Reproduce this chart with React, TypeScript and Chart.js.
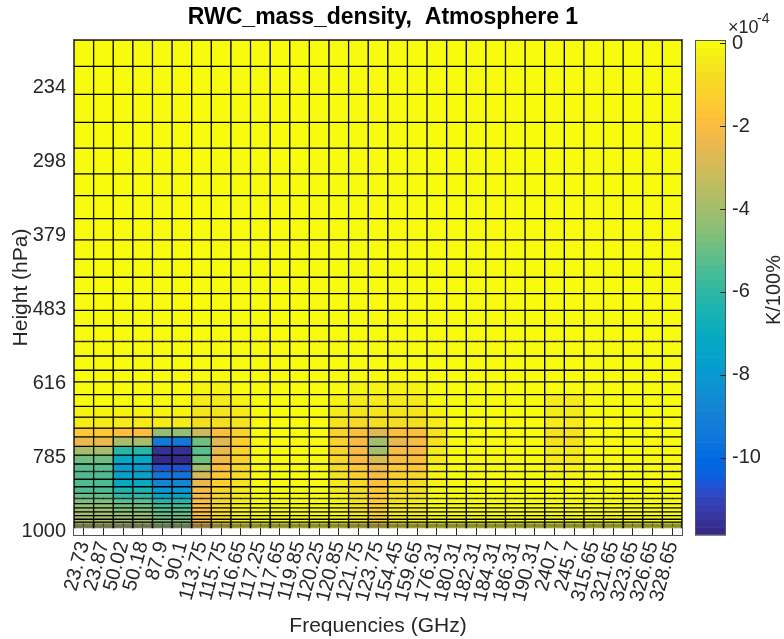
import { useEffect, useRef } from "react";
import { Chart, registerables } from "chart.js";

Chart.register(...registerables);

// ---------- data ----------
const frequencies = [
  "23.73", "23.87", "50.02", "50.18", "87.9", "90.1", "113.75", "115.75",
  "116.65", "117.25", "117.65", "119.85", "120.25", "120.85", "121.75",
  "123.75", "154.45", "159.65", "176.31", "180.31", "182.31", "184.31",
  "186.31", "190.31", "240.7", "245.7", "315.65", "321.65", "323.65",
  "326.65", "328.65",
];

// pressure level edges (hPa), top to bottom
const pressureLevels = [
  200, 218, 239, 262, 285, 310, 333, 359, 385, 410, 435, 459, 485, 510, 537,
  563, 590, 613, 639, 664, 688, 713, 734, 757, 779, 802, 822, 843, 864, 883,
  898, 913, 926, 938, 950, 961, 970, 977, 981, 984, 986, 988, 990,
];

const pressureTicks = [234, 298, 379, 483, 616, 785, 1000];
const pressureMin = 200;
const pressureMax = 1012;
const colorbarTicks = [-10, -8, -6, -4, -2, 0];
const colorMin = -11.87; // x 1e-4 K/100%
const colorMax = 0.08;

// values in units of 1e-4 K/100%, one row per layer (top to bottom), one entry per frequency
const Z0 = [0,0,0,0,0,0,0,0,0,0,0,0,0,0,0,0,0,0,0,0,0,0,0,0,0,0,0,0,0,0,0];
const sensitivity: number[][] = [
  Z0, Z0, Z0, Z0, Z0, Z0, Z0, Z0, Z0, Z0, Z0, Z0, Z0, Z0, Z0, Z0, Z0,
  [0,0,0,0,0,0,-0.2,-0.2,0,0,0,0,0,0,-0.2,-0.2,-0.2,-0.2, 0,0,0,0,0,0,0,0,0,0,0,0,0],
  [0,0,0,0,0,0,-0.3,-0.3,-0.2,0,0,0,0,-0.2,-0.3,-0.3,-0.3,-0.3, 0,0,0,0,0,0,-0.3,-0.3,0,0,0,0,0],
  [-0.2,-0.2,-0.2,-0.2,-0.2,-0.2,-0.5,-0.5,-0.4,0,0,0,0,-0.4,-0.6,-0.6,-0.6,-0.6, -0.2,0,0,0,0,0,-0.4,-0.4,0,0,0,0,0],
  [-0.3,-0.3,-0.3,-0.3,-0.3,-0.3,-0.7,-0.8,-0.5,0,0,0,0,-0.6,-0.9,-0.8,-0.8,-0.7, -0.3,0,0,0,0,0,-0.4,-0.4,0,0,0,0,0],
  [-1.5,-1.5,-1.9,-1.9,-4.4,-4.4,-3.1,-1.9,-1.05,0,0,0,0,-1.1,-1.8,-2.65,-1.9,-1.8, -0.5,0,0,0,0,0,-0.5,-0.5,0,0,0,0,0],
  [-2.45,-2.45,-3.9,-3.9,-9.4,-9.4,-4.95,-2.6,-1.25,0,0,0,0,-1.1,-2.0,-3.85,-2.4,-2.0, -0.5,0,0,0,0,0,-0.5,-0.5,0,0,0,0,0],
  [-3.9,-3.9,-6.1,-6.1,-11.5,-11.5,-5.2,-2.45,-1.1,0,0,0,0,-1.05,-2.0,-3.9,-2.0,-2.0, -0.45,0,0,0,0,0,-0.45,-0.45,0,0,0,0,0],
  [-4.95,-4.95,-7.3,-7.3,-11.85,-11.85,-4.95,-2.2,-1.1,0,0,0,0,-0.95,-2.0,-2.8,-2.0,-1.9, -0.35,0,0,0,0,0,-0.35,-0.35,0,0,0,0,0],
  [-5.2,-5.2,-7.9,-7.9,-10.7,-10.7,-3.85,-1.9,-0.9,0,0,0,0,-0.7,-1.6,-2.2,-1.55,-1.45, -0.25,0,0,0,0,0,-0.25,-0.25,0,0,0,0,0],
  [-5.4,-5.4,-7.7,-7.7,-9.6,-9.6,-2.85,-1.5,-0.7,0,0,0,0,-0.5,-1.25,-2.0,-1.25,-1.0, -0.2,0,0,0,0,0,-0.2,-0.2,0,0,0,0,0],
  [-5.5,-5.5,-7.1,-7.1,-8.8,-8.8,-2.4,-1.25,-0.5,0,0,0,0,-0.4,-1.0,-1.8,-1.0,-0.8, -0.15,0,0,0,0,0,0,0,0,0,0,0,0],
  [-5.4,-5.4,-6.4,-6.4,-8.1,-8.1,-2.1,-1.0,-0.4,0,0,0,0,-0.3,-0.8,-1.6,-0.8,-0.6, -0.1,0,0,0,0,0,0,0,0,0,0,0,0],
  [-5.1,-5.1,-5.9,-5.9,-7.3,-7.3,-2.0,-0.95,-0.3,0,0,0,0,-0.2,-0.7,-1.45,-0.6,-0.5, 0,0,0,0,0,0,0,0,0,0,0,0,0],
  [-4.75,-4.75,-5.3,-5.3,-6.2,-6.2,-1.95,-0.9,-0.3,0,0,0,0,-0.2,-0.6,-1.35,-0.5,-0.4, 0,0,0,0,0,0,0,0,0,0,0,0,0],
  [-4.4,-4.4,-4.9,-4.9,-5.6,-5.6,-1.9,-0.9,-0.25,0,0,0,0,-0.15,-0.5,-1.25,-0.45,-0.35, 0,0,0,0,0,0,0,0,0,0,0,0,0],
  [-4.2,-4.2,-4.6,-4.6,-5.3,-5.3,-1.9,-0.85,-0.25,0,0,0,0,-0.15,-0.5,-1.2,-0.4,-0.3, 0,0,0,0,0,0,0,0,0,0,0,0,0],
  [-4.0,-4.0,-4.4,-4.4,-5.0,-5.0,-1.85,-0.85,-0.2,0,0,0,0,-0.1,-0.45,-1.15,-0.4,-0.3, 0,0,0,0,0,0,0,0,0,0,0,0,0],
  [-3.9,-3.9,-4.2,-4.2,-4.8,-4.8,-1.85,-0.8,-0.2,0,0,0,0,-0.1,-0.4,-1.1,-0.35,-0.3, 0,0,0,0,0,0,0,0,0,0,0,0,0],
  [-3.8,-3.8,-4.1,-4.1,-4.6,-4.6,-1.8,-0.8,-0.2,0,0,0,0,-0.1,-0.4,-1.05,-0.35,-0.25, 0,0,0,0,0,0,0,0,0,0,0,0,0],
  [-3.7,-3.7,-4.0,-4.0,-4.5,-4.5,-1.8,-0.8,-0.2,0,0,0,0,-0.1,-0.35,-1.0,-0.3,-0.25, 0,0,0,0,0,0,0,0,0,0,0,0,0],
  [-3.6,-3.6,-3.9,-3.9,-4.4,-4.4,-1.8,-0.75,-0.2,0,0,0,0,-0.1,-0.35,-1.0,-0.3,-0.25, 0,0,0,0,0,0,0,0,0,0,0,0,0],
  [-3.6,-3.6,-3.8,-3.8,-4.3,-4.3,-1.75,-0.75,-0.15,0,0,0,0,-0.1,-0.3,-0.95,-0.3,-0.2, 0,0,0,0,0,0,0,0,0,0,0,0,0],
  [-3.5,-3.5,-3.8,-3.8,-4.2,-4.2,-1.75,-0.75,-0.15,0,0,0,0,-0.1,-0.3,-0.95,-0.3,-0.2, 0,0,0,0,0,0,0,0,0,0,0,0,0],
  [-3.5,-3.5,-3.7,-3.7,-4.2,-4.2,-1.75,-0.7,-0.15,0,0,0,0,-0.1,-0.3,-0.9,-0.25,-0.2, 0,0,0,0,0,0,0,0,0,0,0,0,0],
  [-3.5,-3.5,-3.7,-3.7,-4.1,-4.1,-1.75,-0.7,-0.15,0,0,0,0,-0.1,-0.3,-0.9,-0.25,-0.2, 0,0,0,0,0,0,0,0,0,0,0,0,0],
];

// ---------- colormap (parula, 64 entries) ----------
const PARULA: number[][] = [
  [0.2081,0.1663,0.5292],[0.2116,0.1898,0.5777],[0.2123,0.2138,0.6270],[0.2081,0.2386,0.6771],
  [0.1959,0.2645,0.7279],[0.1707,0.2919,0.7792],[0.1253,0.3242,0.8303],[0.0591,0.3598,0.8683],
  [0.0117,0.3875,0.8820],[0.0060,0.4086,0.8828],[0.0165,0.4266,0.8786],[0.0329,0.4430,0.8720],
  [0.0498,0.4586,0.8641],[0.0629,0.4737,0.8554],[0.0723,0.4887,0.8467],[0.0779,0.5040,0.8384],
  [0.0793,0.5200,0.8312],[0.0749,0.5375,0.8263],[0.0641,0.5570,0.8240],[0.0488,0.5772,0.8228],
  [0.0343,0.5966,0.8199],[0.0265,0.6137,0.8135],[0.0239,0.6287,0.8038],[0.0231,0.6418,0.7913],
  [0.0228,0.6535,0.7768],[0.0267,0.6642,0.7607],[0.0384,0.6743,0.7436],[0.0590,0.6838,0.7254],
  [0.0843,0.6928,0.7062],[0.1133,0.7015,0.6859],[0.1453,0.7098,0.6646],[0.1801,0.7177,0.6424],
  [0.2178,0.7250,0.6193],[0.2586,0.7317,0.5954],[0.3022,0.7376,0.5712],[0.3482,0.7424,0.5473],
  [0.3953,0.7459,0.5244],[0.4420,0.7481,0.5033],[0.4871,0.7491,0.4840],[0.5300,0.7491,0.4661],
  [0.5709,0.7485,0.4494],[0.6099,0.7473,0.4337],[0.6473,0.7456,0.4188],[0.6834,0.7435,0.4044],
  [0.7184,0.7411,0.3905],[0.7525,0.7384,0.3768],[0.7858,0.7356,0.3633],[0.8185,0.7327,0.3498],
  [0.8507,0.7299,0.3360],[0.8824,0.7274,0.3217],[0.9139,0.7258,0.3063],[0.9450,0.7261,0.2886],
  [0.9739,0.7314,0.2666],[0.9938,0.7455,0.2403],[0.9990,0.7653,0.2164],[0.9955,0.7861,0.1967],
  [0.9880,0.8066,0.1794],[0.9789,0.8271,0.1633],[0.9697,0.8481,0.1475],[0.9626,0.8705,0.1309],
  [0.9589,0.8949,0.1132],[0.9598,0.9218,0.0948],[0.9661,0.9514,0.0755],[0.9763,0.9831,0.0538],
];

function idxColor(k: number): string {
  const c = PARULA[Math.max(0, Math.min(63, k))];
  return `rgb(${Math.round(c[0] * 255)},${Math.round(c[1] * 255)},${Math.round(c[2] * 255)})`;
}
function colorFor(v: number | undefined): string {
  const val = typeof v === "number" ? v : 0;
  const t = (val - colorMin) / (colorMax - colorMin);
  return idxColor(Math.floor(t * 64));
}

const FONT = "'Liberation Sans', Arial, Helvetica, sans-serif";
const TEXT = "#262626";

const colorbarPlugin = {
  id: "colorbar",
  afterDraw(chart: any) {
    const { ctx, chartArea } = chart;
    const cb = chart.scales.cb;
    const x0 = chartArea.right + 13;
    const w = 31;
    ctx.save();
    for (let k = 0; k < 64; k++) {
      const v0 = colorMin + (k / 64) * (colorMax - colorMin);
      const v1 = colorMin + ((k + 1) / 64) * (colorMax - colorMin);
      const y0 = cb.getPixelForValue(v1);
      const y1 = cb.getPixelForValue(v0);
      ctx.fillStyle = idxColor(k);
      ctx.fillRect(x0, y0, w, y1 - y0 + 0.6);
    }
    const yt = cb.getPixelForValue(colorMax);
    const yb = cb.getPixelForValue(colorMin);
    ctx.strokeStyle = "#555";
    ctx.lineWidth = 1;
    ctx.strokeRect(x0 + 0.5, yt + 0.5, w - 1, yb - yt - 1);
    ctx.strokeStyle = TEXT;
    for (const v of colorbarTicks) {
      const y = Math.round(cb.getPixelForValue(v)) + 0.5;
      ctx.beginPath();
      ctx.moveTo(x0 + w - 6, y);
      ctx.lineTo(x0 + w, y);
      ctx.stroke();
    }
    // exponent label
    ctx.fillStyle = TEXT;
    ctx.textAlign = "left";
    ctx.textBaseline = "alphabetic";
    ctx.font = `18px ${FONT}`;
    ctx.fillText("\u00d710", 728, 33);
    ctx.font = `14px ${FONT}`;
    ctx.fillText("-4", 757, 23);
    // colorbar label
    ctx.translate(774, 290);
    ctx.rotate(-Math.PI / 2);
    ctx.textAlign = "center";
    ctx.textBaseline = "middle";
    ctx.font = `20px ${FONT}`;
    ctx.fillText("K/100%", 0, 0);
    ctx.restore();

    // axes box
    ctx.save();
    ctx.strokeStyle = "#555";
    ctx.lineWidth = 1;
    ctx.strokeRect(
      Math.round(chartArea.left) - 0.5,
      Math.round(chartArea.top) - 0.5,
      Math.round(chartArea.right - chartArea.left) + 1,
      Math.round(chartArea.bottom - chartArea.top) + 1
    );
    ctx.restore();
  },
};

export default function App() {
  const ref = useRef<HTMLCanvasElement>(null);
  useEffect(() => {
    if (!ref.current) return;
    const datasets = sensitivity.map((row, i) => ({
      label: `${pressureLevels[i]}-${pressureLevels[i + 1]}`,
      data: frequencies.map(() => [pressureLevels[i], pressureLevels[i + 1]]),
      backgroundColor: frequencies.map((_, j) => colorFor(row[j])),
      borderColor: "#000",
      borderWidth: 1,
      borderSkipped: false,
      grouped: false,
      barPercentage: 1,
      categoryPercentage: 1,
    }));
    const chart = new Chart(ref.current, {
      type: "bar",
      data: { labels: frequencies, datasets: datasets as any },
      plugins: [colorbarPlugin],
      options: {
        animation: false,
        responsive: true,
        maintainAspectRatio: false,
        layout: { padding: { left: 0, right: 18, top: 0, bottom: 0 } },
        plugins: {
          legend: { display: false },
          tooltip: { enabled: false },
          title: {
            display: true,
            text: "RWC_mass_density,  Atmosphere 1",
            color: "#000",
            font: { family: FONT, size: 23, weight: "bold" },
            padding: { top: 4.2, bottom: 8.2 },
          },
        },
        scales: {
          x: {
            type: "category",
            offset: true,
            grid: { display: true, offset: false, color: TEXT, drawTicks: false, lineWidth: 1 },
            border: { display: false },
            ticks: {
              autoSkip: false,
              maxRotation: 75,
              minRotation: 75,
              padding: 4,
              color: TEXT,
              font: { family: FONT, size: 20 },
            },
            title: {
              display: true,
              text: "Frequencies (GHz)",
              color: TEXT,
              font: { family: FONT, size: 21 },
              padding: { top: 0, bottom: 0 },
            },
            afterFit: (s: any) => {
              s.height = 104;
            },
          },
          y: {
            type: "logarithmic",
            reverse: true,
            min: pressureMin,
            max: pressureMax,
            afterBuildTicks: (s: any) => {
              s.ticks = pressureTicks.map((v) => ({ value: v }));
            },
            grid: { display: false, drawTicks: false },
            border: { display: false },
            ticks: {
              padding: 8,
              color: TEXT,
              font: { family: FONT, size: 20 },
              callback: (v: any) => String(v),
            },
            title: {
              display: true,
              text: "Height (hPa)",
              color: TEXT,
              font: { family: FONT, size: 21 },
              padding: { top: 9, bottom: 0 },
            },
            afterFit: (s: any) => {
              s.width = 74;
            },
          },
          cb: {
            type: "linear",
            position: "right",
            min: colorMin,
            max: colorMax,
            afterBuildTicks: (s: any) => {
              s.ticks = colorbarTicks.map((v) => ({ value: v }));
            },
            grid: {
              display: true,
              drawOnChartArea: false,
              drawTicks: true,
              tickLength: 50,
              color: "rgba(0,0,0,0)",
            },
            border: { display: false },
            ticks: {
              padding: 0,
              color: TEXT,
              font: { family: FONT, size: 20 },
              callback: (v: any) => String(v),
            },
            afterFit: (s: any) => {
              s.width = 84;
            },
          },
        },
      } as any,
    });
    return () => chart.destroy();
  }, []);
  return (
    <div style={{ position: "absolute", left: 0, top: 0, width: 784, height: 639 }}>
      <canvas ref={ref} />
    </div>
  );
}
